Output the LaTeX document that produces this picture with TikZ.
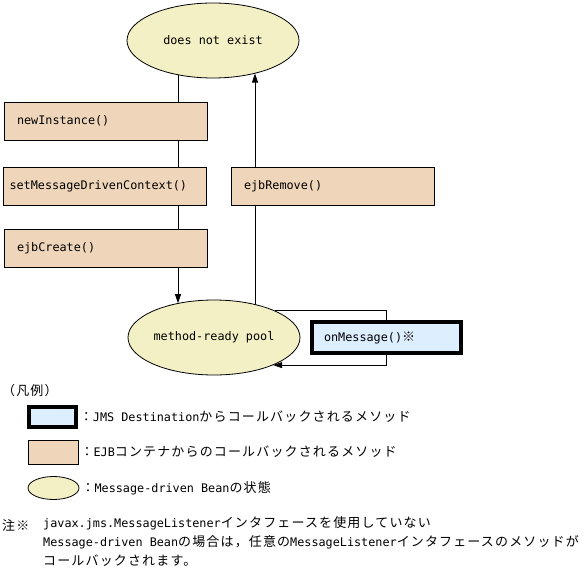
\documentclass[tikz,border=0pt]{standalone}
\usepackage{fontspec}
\setmainfont{DejaVu Sans Mono}
\newfontfamily\cjk{Noto Sans CJK JP}[Scale=1.1, LetterSpace=9]
\newcommand{\jp}[1]{{\cjk #1}}
\usetikzlibrary{shapes.geometric, arrows.meta, positioning, backgrounds}

\definecolor{stateFill}{HTML}{F2F0C4}
\definecolor{ejbFill}{HTML}{EFD6BA}
\definecolor{jmsFill}{HTML}{DDEEFF}

\begin{document}
\begin{tikzpicture}[
    x=1pt, y=-1pt,
    font=\fontsize{11.8}{14}\selectfont,
    state/.style={ellipse, draw, line width=0.8pt, fill=stateFill, minimum width=172pt, minimum height=75pt, inner sep=0pt},
    ejbbox/.style={rectangle, draw, line width=0.8pt, fill=ejbFill, minimum height=38pt, text width=177pt, inner xsep=13pt, align=left},
    jmsbox/.style={rectangle, draw, line width=3.5pt, fill=jmsFill, minimum height=31pt, text width=125pt, inner xsep=12pt, align=left},
    link/.style={line width=0.8pt},
    arrow/.style={link, -{Triangle[length=9pt, width=6pt]}},
    legtext/.style={anchor=west, inner sep=0pt}
]
\useasboundingbox (0,0) rectangle (588,575);

% States
\node[state] (dne) at (213,40.5) {does not exist};
\node[state] (pool) at (214,337.5) {method-ready pool};

% EJB container callbacks
\node[ejbbox] (newInst) at (105.5,121) {newInstance()};
\node[ejbbox, inner xsep=6pt, text width=191pt] (setCtx) at (105,186.5) {setMessageDrivenContext()};
\node[ejbbox] (create) at (105.5,248.5) {ejbCreate()};
\node[ejbbox] (remove) at (332.5,186.5) {ejbRemove()};

% JMS callback
\node[jmsbox] (msg) at (386.5,337.5) {onMessage()\jp{※}};

% Connectors
\coordinate (lx) at (178,0);
\coordinate (rx) at (255,0);
\draw[link] (lx |- dne.224) -- (lx |- newInst.north);
\draw[link] (lx |- newInst.south) -- (lx |- setCtx.north);
\draw[link] (lx |- setCtx.south) -- (lx |- create.north);
\draw[arrow] (lx |- create.south) -- (lx |- pool.137);
\draw[link] (rx |- pool.39) -- (rx |- remove.south);
\draw[arrow] (rx |- remove.north) -- (rx |- dne.-38);
\draw[link] (pool.24) -| (msg.north);
\draw[arrow] (msg.south) |- (pool.-25);

% Legend
\node[legtext] (legTitle) at (2,391) {\jp{（凡例）}};
\node[rectangle, draw, line width=3.5pt, fill=jmsFill, minimum width=47pt, minimum height=20pt] (legJms) at (52.5,417) {};
\node[rectangle, draw, line width=0.8pt, fill=ejbFill, minimum width=50pt, minimum height=24pt] (legEjb) at (53,452) {};
\node[ellipse, draw, line width=0.8pt, fill=stateFill, minimum width=51pt, minimum height=23pt] (legState) at (53.5,488) {};
\node[legtext, right=2pt of legJms] (legJmsText) {\jp{：}JMS Destination\jp{からコールバックされるメソッド}};
\node[legtext, right=2pt of legEjb] (legEjbText) {\jp{：}EJB\jp{コンテナからのコールバックされるメソッド}};
\node[legtext, right=2pt of legState] (legStateText) {\jp{：}Message-driven Bean\jp{の状態}};

% Note
\node[legtext] (noteMark) at (2,525) {\jp{注※}};
\node[anchor=north west, inner sep=0pt, align=left, font=\fontsize{11.8}{19}\selectfont] (noteText) at (43,516)
  {javax.jms.MessageListener\jp{インタフェースを使用していない}\\
   Message-driven Bean\jp{の場合は，任意の}MessageListener\jp{インタフェースのメソッドが}\\
   \jp{コールバックされます。}};
\end{tikzpicture}
\end{document}
